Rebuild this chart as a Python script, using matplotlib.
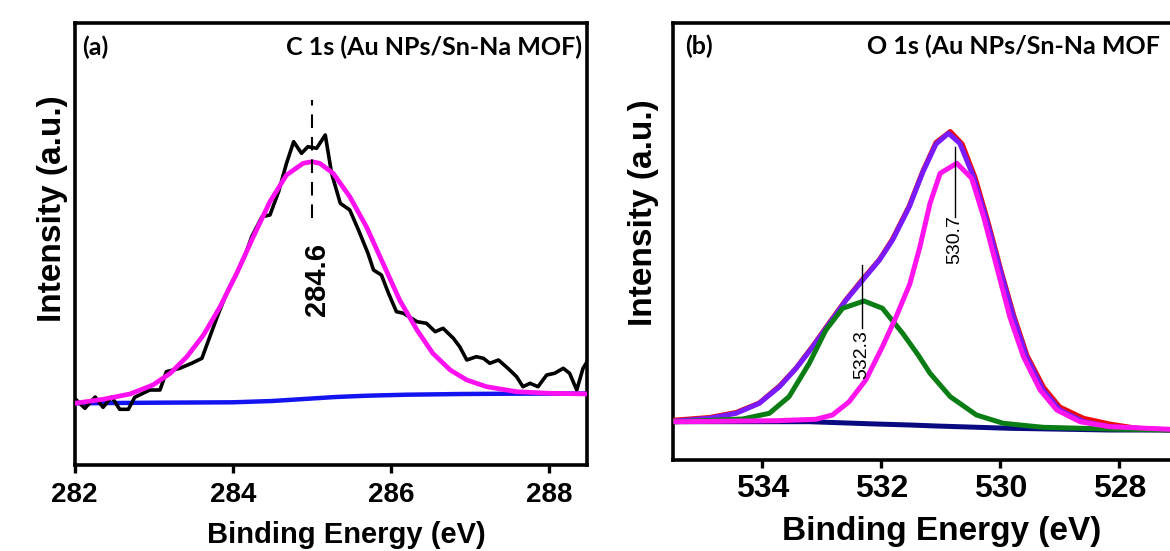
import matplotlib
matplotlib.use("Agg")
import matplotlib.pyplot as plt

# ---------------- Panel (a): C 1s ----------------
c1s_be = [282.0, 282.13, 282.26, 282.36, 282.47, 282.57, 282.68, 282.76, 282.95, 283.08,
          283.16, 283.33, 283.48, 283.61, 283.71, 283.82, 283.94, 284.05, 284.15, 284.24,
          284.37, 284.47, 284.58, 284.68, 284.77, 284.87, 284.95, 285.06, 285.17, 285.25,
          285.36, 285.48, 285.59, 285.71, 285.78, 285.88, 285.97, 286.07, 286.16, 286.33,
          286.45, 286.56, 286.66, 286.79, 286.87, 286.96, 287.08, 287.17, 287.25, 287.36,
          287.48, 287.59, 287.67, 287.76, 287.86, 287.97, 288.07, 288.18, 288.26, 288.35,
          288.43, 288.55]
c1s_raw = [66.7, 56.7, 68.0, 57.7, 68.0, 55.7, 55.7, 67.7, 75.0, 75.0,
           93.3, 96.7, 101.7, 106.7, 128.3, 151.7, 175.0, 191.7, 208.3, 228.3,
           248.3, 250.0, 273.3, 301.7, 323.3, 311.7, 318.3, 316.7, 330.0, 291.7,
           261.7, 255.0, 235.0, 211.7, 195.0, 190.0, 171.7, 153.3, 151.7, 143.3,
           141.7, 133.3, 136.7, 126.7, 118.3, 105.0, 108.3, 106.7, 101.7, 105.0,
           96.7, 88.3, 78.3, 81.7, 78.3, 90.0, 91.7, 96.7, 91.7, 75.0,
           96.7, 112.0]

c1s_fit_be = [282.0, 282.36, 282.70, 282.99, 283.21, 283.42, 283.63, 283.84, 284.05, 284.26,
              284.47, 284.68, 284.89, 285.0, 285.10, 285.27, 285.48, 285.69, 285.90, 286.11,
              286.33, 286.53, 286.75, 286.96, 287.21, 287.59, 288.01, 288.5]
c1s_fit = [61.7, 65.7, 71.0, 80.0, 91.7, 108.3, 130.0, 158.3, 191.7, 228.3,
           263.3, 290.0, 301.7, 303.3, 301.7, 291.7, 268.3, 238.3, 201.7, 165.0,
           135.0, 111.7, 95.0, 85.0, 78.3, 73.3, 71.7, 71.0]

c1s_bg_be = [282.0, 282.5, 283.0, 283.5, 284.0, 284.5, 285.0, 285.3, 285.7, 286.2, 286.9, 287.5, 288.5]
c1s_bg = [61.7, 62.0, 62.3, 62.5, 62.7, 64.0, 66.5, 68.0, 69.3, 70.3, 71.0, 71.3, 71.5]

c1s_peak = 285.0
c1s_peak_label = "284.6"

# ---------------- Panel (b): O 1s ----------------
o1s_env_be = [535.45, 534.89, 534.44, 534.05, 533.71, 533.43, 533.15, 532.87, 532.59, 532.31,
              532.03, 531.81, 531.53, 531.30, 531.08, 530.87, 530.68, 530.45, 530.23, 530.0,
              529.78, 529.56, 529.28, 529.0, 528.6, 528.16, 527.15]
o1s_env = [39.0, 41.7, 46.7, 56.7, 73.3, 91.7, 113.3, 136.7, 160.0, 180.0,
           200.0, 220.0, 253.0, 288.0, 316.0, 326.7, 316.7, 283.3, 240.0, 190.0,
           143.3, 103.3, 70.0, 50.0, 38.3, 33.3, 30.0]

o1s_raw_be = [535.45, 534.89, 534.44, 534.05, 533.71, 533.43, 533.15, 532.87, 532.59, 532.31,
              532.03, 531.81, 531.53, 531.30, 531.08, 530.84, 530.64, 530.42, 530.21, 529.99,
              529.77, 529.55, 529.27, 529.0, 528.6, 528.16, 527.7, 527.15]
o1s_raw = [40.0, 42.5, 47.5, 57.0, 74.0, 92.0, 114.0, 137.5, 160.5, 181.0,
           200.5, 221.0, 254.0, 289.0, 317.5, 328.5, 316.0, 282.0, 239.0, 190.0,
           144.0, 104.5, 72.5, 53.0, 41.7, 36.0, 31.7, 30.0]

o1s_p1_be = [535.45, 533.77, 533.10, 532.82, 532.54, 532.26, 531.98, 531.75, 531.52, 531.35,
             531.18, 531.01, 530.73, 530.48, 530.28, 530.06, 529.84, 529.61, 529.33, 529.05,
             528.66, 528.16, 527.15]
o1s_p1 = [38.3, 39.3, 40.7, 45.0, 58.3, 80.0, 113.3, 143.3, 176.0, 213.3,
          256.7, 286.7, 296.7, 281.7, 243.3, 193.3, 143.3, 103.3, 70.0, 50.0,
          38.3, 33.3, 30.7]

o1s_p2_be = [535.45, 534.33, 533.88, 533.55, 533.21, 532.93, 532.65, 532.29, 531.98, 531.64,
             531.38, 531.18, 530.84, 530.40, 529.95, 529.28, 528.16, 527.15]
o1s_p2 = [38.3, 41.0, 46.7, 63.3, 96.7, 130.0, 151.7, 159.0, 151.7, 126.7,
          105.0, 86.7, 63.3, 45.0, 36.7, 32.7, 31.0, 30.0]

o1s_bg_be = [535.45, 533.21, 532.09, 531.52, 531.08, 529.84, 528.16, 527.15]
o1s_bg = [38.3, 38.3, 36.0, 35.0, 34.0, 31.7, 30.0, 30.0]

o1s_peaks = [530.76, 532.32]
o1s_peak_labels = ["530.7", "532.3"]

a_ticks = [282, 284, 286, 288]
b_ticks = [534, 532, 530, 528]

# ---------------- Figure ----------------
W, H = 1170, 551
fig = plt.figure(figsize=(W / 100, H / 100), dpi=100)
fig.patch.set_facecolor("white")

lab_font = "Liberation Sans"
ttl_font = "Lato"

def frac(px0, py0, px1, py1):
    return [px0 / W, 1 - py1 / H, (px1 - px0) / W, (py1 - py0) / H]

axa = fig.add_axes(frac(74.6, 23, 587, 465))
axb = fig.add_axes(frac(673, 23, 1178.75, 460))

for ax in (axa, axb):
    for s in ax.spines.values():
        s.set_linewidth(2.6)
    ax.set_yticks([])
    ax.tick_params(axis="x", direction="out", length=6, width=2.4)

# ---- (a)
axa.plot(c1s_bg_be, c1s_bg, color="#1414f0", lw=3.2, zorder=2, solid_capstyle="butt")
axa.plot(c1s_be, c1s_raw, color="black", lw=2.6, zorder=3)
axa.plot(c1s_fit_be, c1s_fit, color="#ff10f0", lw=3.4, zorder=4)
axa.plot([c1s_peak, c1s_peak], [247, 365], color="black", lw=1.5,
         dashes=(6.5, 4.3), zorder=5)
axa.text(285.06, 186, c1s_peak_label, rotation=90, ha="center", va="center",
         fontsize=21, fontweight="bold", family=lab_font, zorder=6)
axa.set_xlim(282, 288.48)
axa.set_ylim(0, 442)
axa.set_xticks(a_ticks)
axa.set_xticklabels([str(t) for t in a_ticks], fontsize=20, fontweight="bold",
                    family=lab_font)
axa.tick_params(axis="x", pad=6)
axa.set_xlabel("Binding Energy (eV)", fontsize=21, fontweight="bold",
               family=lab_font, va="center")
axa.xaxis.set_label_coords(0.5297, -0.158)
axa.set_ylabel("Intensity (a.u.)", fontsize=24, fontweight="bold",
               family=lab_font, va="center")
axa.yaxis.set_label_coords(-0.043, 0.580)
axa.text(0.0144, 0.946, "(a)", transform=axa.transAxes, ha="left", va="center",
         fontsize=18, fontweight="bold", family=ttl_font)
axa.text(0.990, 0.946, "C 1s (Au NPs/Sn-Na MOF)", transform=axa.transAxes,
         ha="right", va="center", fontsize=18, fontweight="bold", family=ttl_font)

# ---- (b)
axb.plot(o1s_bg_be, o1s_bg, color="#0a0a80", lw=3.6, zorder=2)
axb.plot(o1s_raw_be, o1s_raw, color="#ee0a0a", lw=3.6, zorder=3)
axb.plot(o1s_env_be, o1s_env, color="#7a1aff", lw=3.6, zorder=4)
axb.plot(o1s_p2_be, o1s_p2, color="#0a7d14", lw=3.6, zorder=5)
axb.plot(o1s_p1_be, o1s_p1, color="#ff14ee", lw=3.6, zorder=5)
# peak labels with leader lines
axb.plot([o1s_peaks[0]] * 2, [243.3, 313.3], color="black", lw=1.0, zorder=6)
axb.text(o1s_peaks[0], 220, o1s_peak_labels[0], rotation=90, ha="center",
         va="center", fontsize=14, family=lab_font, zorder=7)
axb.plot([o1s_peaks[1]] * 2, [132, 195], color="black", lw=1.0, zorder=6)
axb.text(o1s_peaks[1], 105, o1s_peak_labels[1], rotation=90, ha="center",
         va="center", fontsize=14, family=lab_font, zorder=7)
axb.set_xlim(535.5, 527.0)
axb.set_ylim(0, 437)
axb.set_xticks(b_ticks)
axb.set_xticklabels([str(t) for t in b_ticks], fontsize=23, fontweight="bold",
                    family=lab_font)
axb.tick_params(axis="x", pad=4)
axb.set_xlabel("Binding Energy (eV)", fontsize=24, fontweight="bold",
               family=lab_font, va="center")
axb.xaxis.set_label_coords(0.532, -0.1625)
axb.set_ylabel("Intensity (a.u.)", fontsize=24, fontweight="bold",
               family=lab_font, va="center")
axb.yaxis.set_label_coords(-0.0583, 0.565)
axb.text(0.0237, 0.947, "(b)", transform=axb.transAxes, ha="left", va="center",
         fontsize=18, fontweight="bold", family=ttl_font)
axb.text(0.3836, 0.947, "O 1s (Au NPs/Sn-Na MOF", transform=axb.transAxes,
         ha="left", va="center", fontsize=18, fontweight="bold", family=ttl_font)

fig.savefig("out.png", dpi=100, facecolor="white")
